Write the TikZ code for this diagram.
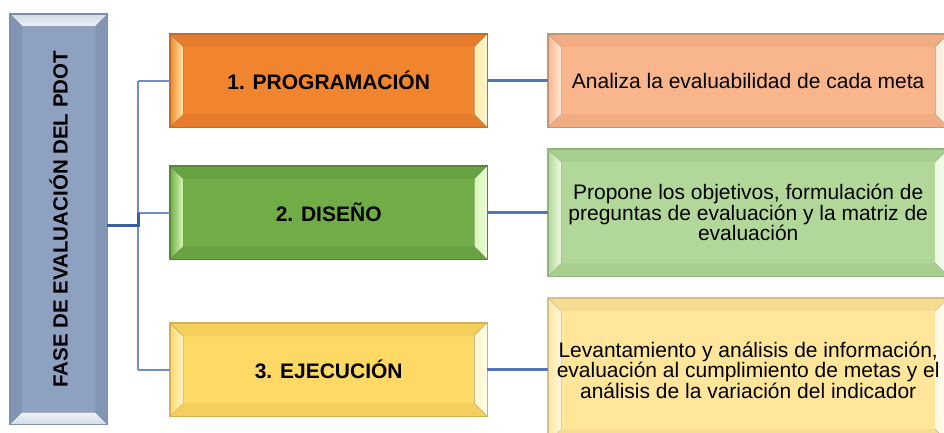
\documentclass[tikz,border=0pt]{standalone}
\usepackage{fontspec}
\setmainfont{Liberation Sans}
\usepackage{graphicx}
\usetikzlibrary{backgrounds}

\definecolor{fbase}{HTML}{8EA1C0}\definecolor{fborder}{HTML}{7D8FAE}\definecolor{fdark}{HTML}{8395B5}\definecolor{flight}{HTML}{EEF2F8}
\definecolor{obase}{HTML}{F0842F}\definecolor{oborder}{HTML}{C96A24}\definecolor{odark}{HTML}{E57B2B}\definecolor{olight}{HTML}{FFEAA6}
\definecolor{pbase}{HTML}{F9B68D}\definecolor{pborder}{HTML}{C49473}\definecolor{pdark}{HTML}{F1AC83}\definecolor{plight}{HTML}{FDEBD8}
\definecolor{gbase}{HTML}{70AD47}\definecolor{gborder}{HTML}{558A35}\definecolor{gdark}{HTML}{68A241}\definecolor{glight}{HTML}{D9F7B5}
\definecolor{lgbase}{HTML}{B2D899}\definecolor{lgborder}{HTML}{93B37E}\definecolor{lgdark}{HTML}{A9CF8F}\definecolor{lglight}{HTML}{EEF8E4}
\definecolor{ybase}{HTML}{FFD966}\definecolor{yborder}{HTML}{D2B253}\definecolor{ydark}{HTML}{F5CF5D}\definecolor{ylight}{HTML}{FFF6CC}
\definecolor{lybase}{HTML}{FFE69B}\definecolor{lyborder}{HTML}{D4BF86}\definecolor{lydark}{HTML}{F7DD91}\definecolor{lylight}{HTML}{FFF8E2}
\definecolor{trunkc}{HTML}{3A5DA8}\definecolor{branchc}{HTML}{6F8CCB}\definecolor{linkc}{HTML}{5475B9}

% bevel with light left/right edges
\newcommand\bvlh[5]{%
  \fill[#2] (#1.north west) rectangle (#1.south east);
  \fill[#4] (#1.north west) -- ([shift={(13pt,-13pt)}]#1.north west) -- ([shift={(-13pt,-13pt)}]#1.north east) -- (#1.north east) -- cycle;
  \fill[#4] (#1.south west) -- ([shift={(13pt,13pt)}]#1.south west) -- ([shift={(-13pt,13pt)}]#1.south east) -- (#1.south east) -- cycle;
  \fill[left color=#2, right color=#5] (#1.north west) -- ([shift={(13pt,-13pt)}]#1.north west) -- ([shift={(13pt,13pt)}]#1.south west) -- (#1.south west) -- cycle;
  \fill[left color=#5, right color=#5!50!white] (#1.north east) -- ([shift={(-13pt,-13pt)}]#1.north east) -- ([shift={(-13pt,13pt)}]#1.south east) -- (#1.south east) -- cycle;
  \draw[#3, line width=1.2pt] (#1.north west) rectangle (#1.south east);
}
% bevel with light top/bottom edges
\newcommand\bvlv[5]{%
  \fill[#2] (#1.north west) rectangle (#1.south east);
  \fill[#4] (#1.north west) -- ([shift={(12pt,-12pt)}]#1.north west) -- ([shift={(12pt,12pt)}]#1.south west) -- (#1.south west) -- cycle;
  \fill[#4] (#1.north east) -- ([shift={(-12pt,-12pt)}]#1.north east) -- ([shift={(-12pt,12pt)}]#1.south east) -- (#1.south east) -- cycle;
  \fill[top color=#5!70!#2, bottom color=#5] (#1.north west) -- ([shift={(12pt,-12pt)}]#1.north west) -- ([shift={(-12pt,-12pt)}]#1.north east) -- (#1.north east) -- cycle;
  \fill[top color=#5, bottom color=#5!70!#2] (#1.south west) -- ([shift={(12pt,12pt)}]#1.south west) -- ([shift={(-12pt,12pt)}]#1.south east) -- (#1.south east) -- cycle;
  \draw[#3, line width=1.2pt] (#1.north west) rectangle (#1.south east);
}

\tikzset{
  box/.style={rectangle, anchor=north west, inner sep=0pt, align=center, text=black},
  phase/.style={box, minimum width=317pt, minimum height=93pt, font=\bfseries\fontsize{21}{21}\selectfont},
  desc/.style={box, minimum width=400pt, font=\fontsize{21}{20.5}\selectfont},
  fasebox/.style={box, minimum width=97pt, minimum height=410pt, font=\bfseries\fontsize{20.5}{20.5}\selectfont},
  trunk/.style={draw=trunkc, line width=3pt},
  branch/.style={draw=branchc, line width=2pt},
  link/.style={draw=linkc, line width=2.6pt},
}

\begin{document}
\begin{tikzpicture}[x=1pt, y=-1pt]
\useasboundingbox (0,0) rectangle (944,433);

\node[fasebox] (fase) at (10,14) {\rotatebox{90}{FASE DE EVALUACIÓN DEL PDOT}};

\node[phase] (p1) at (170,34) {1. PROGRAMACIÓN};
\node[phase] (p2) at (170,166) {2. DISEÑO};
\node[phase] (p3) at (170,323) {3. EJECUCIÓN};

\node[desc, minimum height=93pt] (d1) at (548,34) {Analiza la evaluabilidad de cada meta};
\node[desc, minimum height=127pt] (d2) at (548,149) {Propone los objetivos, formulación de\\preguntas de evaluación y la matriz de\\evaluación};
\node[desc, minimum height=144pt] (d3) at (548,298) {Levantamiento y análisis de información,\\evaluación al cumplimiento de metas y el\\análisis de la variación del indicador};

\coordinate (j) at (138,225);
\draw[branch] (j |- p1.west) -- (j |- p3.west);
\draw[branch] (j |- p1.west) -- (p1.west);
\draw[branch] (j |- p2.west) -- (p2.west);
\draw[branch] (j |- p3.west) -- (p3.west);
\draw[trunk] (fase.east |- j) -- (j) -- (j |- p2.west);

\draw[link] (p1.east) -- (p1.east -| d1.west);
\draw[link] (p2.east) -- (p2.east -| d2.west);
\draw[link] (p3.east) -- (p3.east -| d3.west);

\begin{pgfonlayer}{background}
  \fill[white] (0,0) rectangle (944,433);
  \bvlv{fase}{fbase}{fborder}{fdark}{flight}
  \bvlh{p1}{obase}{oborder}{odark}{olight}
  \bvlh{p2}{gbase}{gborder}{gdark}{glight}
  \bvlh{p3}{ybase}{yborder}{ydark}{ylight}
  \bvlh{d1}{pbase}{pborder}{pdark}{plight}
  \bvlh{d2}{lgbase}{lgborder}{lgdark}{lglight}
  \bvlh{d3}{lybase}{lyborder}{lydark}{lylight}
\end{pgfonlayer}
\end{tikzpicture}
\end{document}
